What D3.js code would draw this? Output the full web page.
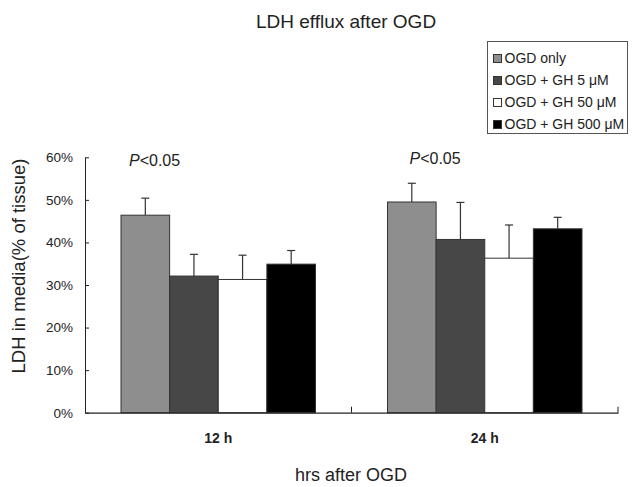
<!DOCTYPE html>
<html>
<meta charset="utf-8">
<style>
    body { margin: 0; background: #fff; }
    svg { display: block; font-family: "Liberation Sans", Arial, sans-serif; }
</style>
<body>
<svg width="634" height="487"></svg>
<script src="https://d3js.org/d3.v7.min.js"></script>
<script>

    // data
    let categories = ["12 h", "24 h"];
    let series = ["OGD only", "OGD + GH 5 \u03bcM", "OGD + GH 50 \u03bcM", "OGD + GH 500 \u03bcM"];
    let means = [
        [0.464, 0.321, 0.313, 0.349],
        [0.495, 0.407, 0.363, 0.432]
    ];
    let errors = [
        [0.040, 0.051, 0.057, 0.032],
        [0.044, 0.087, 0.078, 0.027]
    ];
    let yTicks = [0, 0.1, 0.2, 0.3, 0.4, 0.5, 0.6];
    let notes = ["P<0.05", "P<0.05"];

    let colors = ["#8e8e8e", "#474747", "#ffffff", "#000000"];

    let svg = d3.select("svg"),
        plotLeft = 85, plotRight = 618, plotTop = 157.3, plotBottom = 412.7;

    let x0 = d3.scaleBand().domain(categories).range([plotLeft, plotRight]).padding(0);
    let x1 = d3.scaleBand().domain(series).range([36, x0.bandwidth() - 36]).padding(0);
    let y = d3.scaleLinear().domain([0, 0.6]).range([plotBottom, plotTop]);

    let rows = [];
    categories.forEach(function (c, i) {
        series.forEach(function (s, j) {
            rows.push({cat: c, key: s, idx: j, value: means[i][j], err: errors[i][j]});
        });
    });

    // title
    svg.append("text")
        .attr("x", 346).attr("y", 28)
        .attr("text-anchor", "middle")
        .attr("font-size", 19)
        .attr("fill", "#222")
        .text("LDH efflux after OGD");

    // error bars (drawn first so bars cover the lower half)
    let eb = svg.append("g").attr("stroke", "#333").attr("stroke-width", 1.2);
    eb.selectAll("line.v").data(rows).enter().append("line")
        .attr("x1", function (d) { return x0(d.cat) + x1(d.key) + x1.bandwidth() / 2; })
        .attr("x2", function (d) { return x0(d.cat) + x1(d.key) + x1.bandwidth() / 2; })
        .attr("y1", function (d) { return y(d.value); })
        .attr("y2", function (d) { return y(d.value + d.err); });
    eb.selectAll("line.h").data(rows).enter().append("line")
        .attr("x1", function (d) { return x0(d.cat) + x1(d.key) + x1.bandwidth() / 2 - 4; })
        .attr("x2", function (d) { return x0(d.cat) + x1(d.key) + x1.bandwidth() / 2 + 4; })
        .attr("y1", function (d) { return y(d.value + d.err); })
        .attr("y2", function (d) { return y(d.value + d.err); });

    // bars
    svg.append("g").selectAll("rect").data(rows).enter().append("rect")
        .attr("x", function (d) { return x0(d.cat) + x1(d.key); })
        .attr("y", function (d) { return y(d.value); })
        .attr("width", x1.bandwidth())
        .attr("height", function (d) { return y(0) - y(d.value); })
        .attr("fill", function (d) { return colors[d.idx]; })
        .attr("stroke", "#333")
        .attr("stroke-width", 1);

    // y axis
    let ya = svg.append("g")
        .attr("transform", "translate(" + plotLeft + ",0)")
        .call(d3.axisLeft(y).tickValues(yTicks).tickFormat(d3.format(".0%"))
            .tickSizeInner(-4).tickSizeOuter(0).tickPadding(12));
    ya.select(".domain").attr("stroke", "#222");
    ya.selectAll(".tick line").attr("stroke", "#222");
    ya.selectAll("text").attr("font-size", 13.5).attr("fill", "#222")
        .attr("font-family", "Liberation Sans, Arial, sans-serif");

    // x axis
    let xa = svg.append("g")
        .attr("transform", "translate(0," + plotBottom + ")")
        .call(d3.axisBottom(x0).tickSize(0).tickPadding(20).tickSizeOuter(0));
    xa.select(".domain").attr("stroke", "#222").attr("stroke-width", 1.3);
    xa.selectAll("text").attr("font-size", 14).attr("font-weight", "bold").attr("fill", "#222")
        .attr("font-family", "Liberation Sans, Arial, sans-serif");
    let edges = categories.map(function (c) { return x0(c); }).concat([x0(categories[categories.length - 1]) + x0.bandwidth()]);
    xa.selectAll("line.edge").data(edges.slice(1)).enter().append("line")
        .attr("x1", function (d) { return d; }).attr("x2", function (d) { return d; })
        .attr("y1", 0).attr("y2", -6)
        .attr("stroke", "#222");

    // significance notes
    let noteDx = [8, 22];
    let nt = svg.append("g").selectAll("text").data(categories).enter().append("text")
        .attr("x", function (d, i) { return x0(d) + x1(series[0]) + noteDx[i]; })
        .attr("y", function (d, i) { return i === 0 ? 166 : 164; })
        .attr("font-size", 16)
        .attr("fill", "#222");
    nt.append("tspan").attr("font-style", "italic").text(function (d, i) { return notes[i].slice(0, 1); });
    nt.append("tspan").text(function (d, i) { return notes[i].slice(1); });

    // axis titles
    svg.append("text")
        .attr("transform", "translate(25,266) rotate(-90)")
        .attr("text-anchor", "middle")
        .attr("font-size", 18.5)
        .attr("fill", "#222")
        .text("LDH in media(% of tissue)");

    svg.append("text")
        .attr("x", 351).attr("y", 481)
        .attr("text-anchor", "middle")
        .attr("font-size", 18)
        .attr("fill", "#222")
        .text("hrs after OGD");

    // legend
    let lg = svg.append("g").attr("transform", "translate(487.5,41.5)");
    lg.append("rect")
        .attr("width", 140).attr("height", 92)
        .attr("fill", "#fff").attr("stroke", "#555").attr("stroke-width", 1);
    let item = lg.selectAll("g").data(series).enter().append("g")
        .attr("transform", function (d, i) { return "translate(6," + (17 + i * 22) + ")"; });
    item.append("rect")
        .attr("x", 0).attr("y", -4)
        .attr("width", 8).attr("height", 8)
        .attr("fill", function (d, i) { return colors[i]; })
        .attr("stroke", "#333");
    item.append("text")
        .attr("x", 11).attr("dy", "0.35em")
        .attr("font-size", 14)
        .attr("fill", "#222")
        .text(function (d) { return d; });

</script>
</body>
</html>
